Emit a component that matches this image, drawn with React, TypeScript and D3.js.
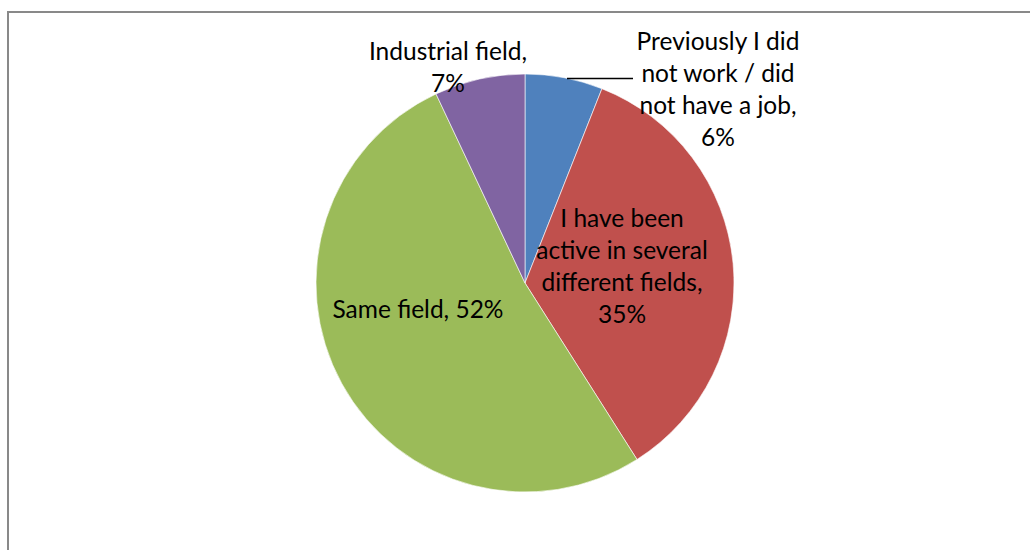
import React from "react";
import * as d3 from "d3";

const categories = [
  "Previously I did not work / did not have a job",
  "I have been active in several different fields",
  "Same field",
  "Industrial field",
];
const values = [6, 35, 52, 7];
const colors = ["#4F81BD", "#C0504D", "#9BBB59", "#8064A2"];
const labelLines = [
  ["Previously I did", "not work / did", "not have a job,", "6%"],
  ["I have been", "active in several", "different fields,", "35%"],
  ["Same field, 52%"],
  ["Industrial field,", "7%"],
];

const W = 1030;
const H = 550;
const CX = 525;
const CY = 283;
const R = 209;
const LINE_H = 32;
// label anchor (center x, first baseline y)
const labelPos: [number, number][] = [
  [718, 50],
  [622, 227],
  [418, 318],
  [448, 60],
];

export default function App() {
  const pie = d3
    .pie<number>()
    .sort(null)
    .startAngle(0)
    .endAngle(2 * Math.PI)
    .value((d) => d);
  const arcs = pie(values);
  const arc = d3.arc<d3.PieArcDatum<number>>().innerRadius(0).outerRadius(R);

  return (
    <svg
      width={W}
      height={H}
      style={{ position: "absolute", left: 0, top: 0 }}
      fontFamily="Lato, 'Open Sans', sans-serif"
    >
      <rect x={0} y={0} width={W} height={H} fill="#fff" />
      <rect
        x={8}
        y={12}
        width={1040}
        height={560}
        fill="#fff"
        stroke="#898989"
        strokeWidth={2}
      />
      <g transform={`translate(${CX},${CY})`}>
        {arcs.map((a, i) => (
          <path
            key={categories[i]}
            d={arc(a) || ""}
            fill={colors[i]}
            stroke="#fff"
            strokeWidth={0.6}
          />
        ))}
      </g>
      <line x1={567} y1={78.5} x2={633} y2={78.5} stroke="#000" strokeWidth={1.5} />
      {labelLines.map((lines, i) => (
        <text
          key={i}
          x={labelPos[i][0]}
          y={labelPos[i][1]}
          textAnchor="middle"
          fontSize={24.5}
          fill="#000"
        >
          {lines.map((l, j) => (
            <tspan key={j} x={labelPos[i][0]} dy={j === 0 ? 0 : LINE_H}>
              {l}
            </tspan>
          ))}
        </text>
      ))}
    </svg>
  );
}
